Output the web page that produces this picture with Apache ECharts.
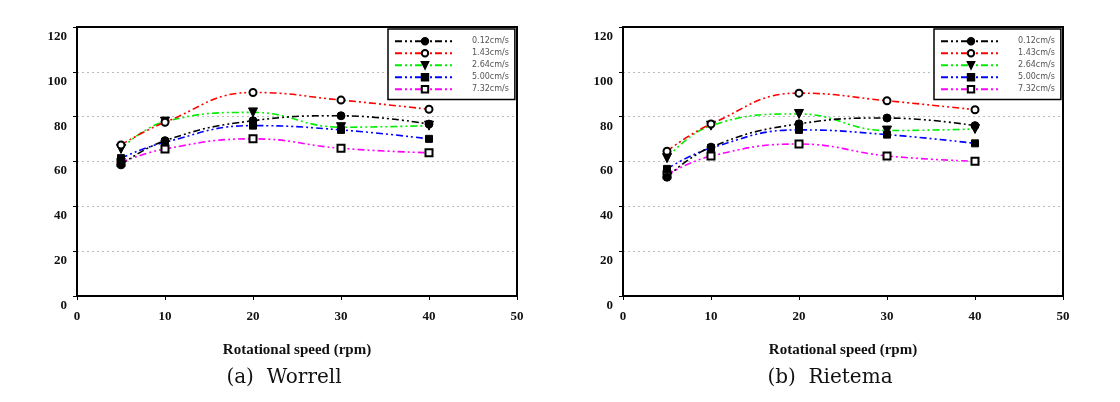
<!DOCTYPE html>
<html>
<head>
<meta charset="utf-8">
<script src="https://cdn.jsdelivr.net/npm/echarts@6/dist/echarts.min.js"></script>
<style>html,body{margin:0;padding:0;background:#fff}#c{width:1120px;height:402px}</style>
</head>
<body>
<div id="c"></div>
<script>
const xValues = [5, 10, 20, 30, 40];
const seriesNames = ['0.12cm/s', '1.43cm/s', '2.64cm/s', '5.00cm/s', '7.32cm/s'];
// Panel (a) Worrell
const worrell0 = [58.5, 69.3, 78.2, 80.4, 76.7];
const worrell1 = [67.4, 77.5, 90.8, 87.4, 83.3];
const worrell2 = [65.6, 77.8, 81.9, 75.3, 76.0];
const worrell3 = [61.5, 68.6, 76.0, 74.1, 70.1];
const worrell4 = [59.6, 65.6, 70.1, 65.9, 63.9];
// Panel (b) Rietema
const rietema0 = [53.0, 66.4, 76.8, 79.4, 76.0];
const rietema1 = [64.6, 76.7, 90.5, 87.1, 83.1];
const rietema2 = [61.5, 76.0, 81.2, 73.8, 74.5];
const rietema3 = [56.7, 66.0, 74.1, 72.0, 68.1];
const rietema4 = [54.1, 62.4, 67.8, 62.5, 60.1];
const captions = ['(a)  Worrell', '(b)  Rietema'];
const xTitle = 'Rotational speed (rpm)';

const lineColors = ['#000000', '#ff0000', '#00ee00', '#0000ff', '#ff00ff'];
const symbols = ['circle', 'emptyCircle', 'triangle', 'rect', 'emptyRect'];
const rotations = [0, 0, 180, 0, 0];
const panels = [[worrell0, worrell1, worrell2, worrell3, worrell4], [rietema0, rietema1, rietema2, rietema3, rietema4]];
const gridLefts = [77, 623];

const font = 'Liberation Serif, DejaVu Serif, serif';
const series = [];
panels.forEach((p, gi) => {
  p.forEach((vals, si) => {
    series.push({
      type: 'line', name: seriesNames[si], xAxisIndex: gi, yAxisIndex: gi,
      data: xValues.map((x, i) => [x, vals[i]]),
      smooth: 0.45,
      symbol: symbols[si], symbolRotate: rotations[si],
      symbolSize: si === 2 ? 9 : (si === 0 ? 8 : 7), showSymbol: true,
      itemStyle: { color: '#000', borderColor: '#000', borderWidth: 1 },
      lineStyle: { color: lineColors[si], width: 1.6, type: [7, 3, 2, 3, 2, 3] },
      z: 10 - si,
      animation: false
    });
  });
});

const chart = echarts.init(document.getElementById('c'));
chart.setOption({
  animation: false,
  grid: gridLefts.map(l => ({ left: l, top: 27, width: 440, height: 269, show: true, borderColor: '#000', borderWidth: 2, backgroundColor: 'transparent' })),
  xAxis: gridLefts.map((l, i) => ({
    type: 'value', gridIndex: i, min: 0, max: 50, interval: 10,
    name: xTitle, nameLocation: 'middle', nameGap: 47,
    nameTextStyle: { fontFamily: font, fontWeight: 'bold', fontSize: 15, color: '#111' },
    axisLine: { lineStyle: { color: '#000', width: 2 } },
    axisTick: { show: true, length: 4, lineStyle: { color: '#000' } },
    axisLabel: { fontFamily: font, fontWeight: 'bold', fontSize: 13, color: '#111', margin: 14 },
    splitLine: { show: false }
  })),
  yAxis: gridLefts.map((l, i) => ({
    type: 'value', gridIndex: i, min: 0, max: 120, interval: 20,
    axisLine: { lineStyle: { color: '#000', width: 2 } },
    axisTick: { show: true, length: 4, lineStyle: { color: '#000' } },
    axisLabel: { fontFamily: font, fontWeight: 'bold', fontSize: 13, color: '#111', margin: 10, verticalAlign: 'top', padding: [3, 0, 0, 0] },
    splitLine: { show: true, showMaxLine: false, showMinLine: false, lineStyle: { color: '#bbb', type: [2, 3], width: 1 } }
  })),
  legend: gridLefts.map((l, i) => ({
    orient: 'vertical', left: l + 311, top: 29,
    data: seriesNames,
    itemWidth: 60, itemHeight: 8, itemGap: 3.6,
    padding: [8, 6, 6, 6],
    borderColor: '#000', borderWidth: 1.5, backgroundColor: '#fff',
    textStyle: { fontSize: 8, color: '#555', padding: [0, 0, 0, 12], fontFamily: 'DejaVu Sans, sans-serif' },
    selectedMode: false
  })),
  title: captions.map((c, i) => ({
    text: c, left: gridLefts[i] + 202, top: 363, textAlign: 'center',
    textStyle: { fontFamily: 'DejaVu Serif, serif', fontSize: 20, fontWeight: 'normal', color: '#111' }
  })),
  series: series
});
</script>
</body>
</html>
